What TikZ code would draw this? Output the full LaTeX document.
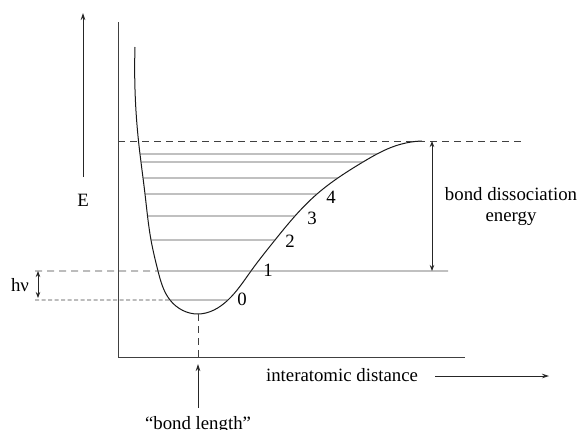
\documentclass[tikz,border=0pt]{standalone}
\usepackage{fontspec}
\setmainfont{Liberation Serif}
\usetikzlibrary{arrows.meta,hobby,intersections}
\begin{document}
\begin{tikzpicture}[x=1pt,y=-1pt,
  lbl/.style={font=\fontsize{18.8}{21}\selectfont, inner sep=0pt},
  axis/.style={draw=black!75, line width=0.9pt},
  curve/.style={draw=black!90, line width=1pt},
  lvl/.style={draw=black!70, line width=0.9pt},
  longdash/.style={draw=black!75, line width=0.8pt, dash pattern=on 7pt off 5pt},
  shortdash/.style={draw=black!75, line width=0.8pt, dash pattern=on 4pt off 2.5pt},
  arr/.style={draw=black!85, line width=0.8pt, -{Stealth[length=7pt,width=4.5pt]}},
  darr/.style={draw=black!85, line width=0.8pt, {Stealth[length=6pt,width=4.5pt]}-{Stealth[length=6pt,width=4.5pt]}}
]
\useasboundingbox (0,0) rectangle (580,429);

% axes
\coordinate (ytop) at (118,22);
\coordinate (origin) at (118,357);
\coordinate (xend) at (465,357);
\draw[axis] (ytop) -- (origin) -- (xend);

% E arrow
\coordinate (Ebot) at (83,177);
\coordinate (Etop) at (83,13);
\draw[arr] (Ebot) -- (Etop);
\node[lbl] (E) at (83,200) {E};

% potential curve
\coordinate (min) at (198,314);
\coordinate (ctop) at (422,141);
\draw[curve, name path=pc, use Hobby shortcut] (135,47) .. (138.5,141) .. (145,194) .. (151,240)
  .. (158,271) .. (170,300) .. (min) .. (228,300) .. (251,271) .. (275,240) .. (295,216)
  .. (317,194) .. (363,162) .. (395,146) .. (ctop);

% top dashed line
\coordinate (dl) at (118,141);
\coordinate (dr) at (522,141);
\draw[longdash] (dl) -- (dr);

% levels
\foreach \i/\y in {0/300,1/271,2/240,3/216,4/194,5/178,6/162,7/154} {
  \path[name path=h\i] (100,\y) -- (470,\y);
  \path[name intersections={of=pc and h\i, sort by=h\i, by={L\i,R\i}}];
}
\foreach \i in {2,...,7} \draw[lvl] (L\i) -- (R\i);
\draw[lvl] (L0) -- (R0);
\coordinate (lv1end) at (448,271);
\draw[lvl] (L1) -- (lv1end);

% dashed extensions
\coordinate (d1l) at (35,271);
\coordinate (d0l) at (35,300);
\draw[longdash] (d1l) -- (L1);
\draw[shortdash] (d0l) -- (L0);

% level numbers
\node[lbl] (n0) at (242,299) {0};
\node[lbl] (n1) at (268,270) {1};
\node[lbl] (n2) at (290,241) {2};
\node[lbl] (n3) at (312,218) {3};
\node[lbl] (n4) at (331,197) {4};

% h nu
\coordinate (hnt) at (38,271);
\coordinate (hnb) at (38,298);
\draw[darr] (hnb) -- (hnt);
\node[lbl] (hnu) at (20,285) {hν};

% dissociation energy
\coordinate (bdt) at (432,141);
\coordinate (bdb) at (432,271);
\draw[darr] (bdb) -- (bdt);
\node[lbl, align=center] (bde) at (511,206) {bond dissociation\\energy};

% bond length
\coordinate (blaxis) at (198,357);
\draw[longdash] (min) -- (blaxis);
\coordinate (blb) at (198,408);
\coordinate (blt) at (198,364);
\draw[arr] (blb) -- (blt);
\node[lbl, anchor=base] (bl) at (198,429) {“bond length”};

% interatomic distance
\node[lbl, anchor=base] (ia) at (342,381) {interatomic distance};
\coordinate (ial) at (435,376);
\coordinate (iar) at (549,376);
\draw[arr] (ial) -- (iar);
\end{tikzpicture}
\end{document}
